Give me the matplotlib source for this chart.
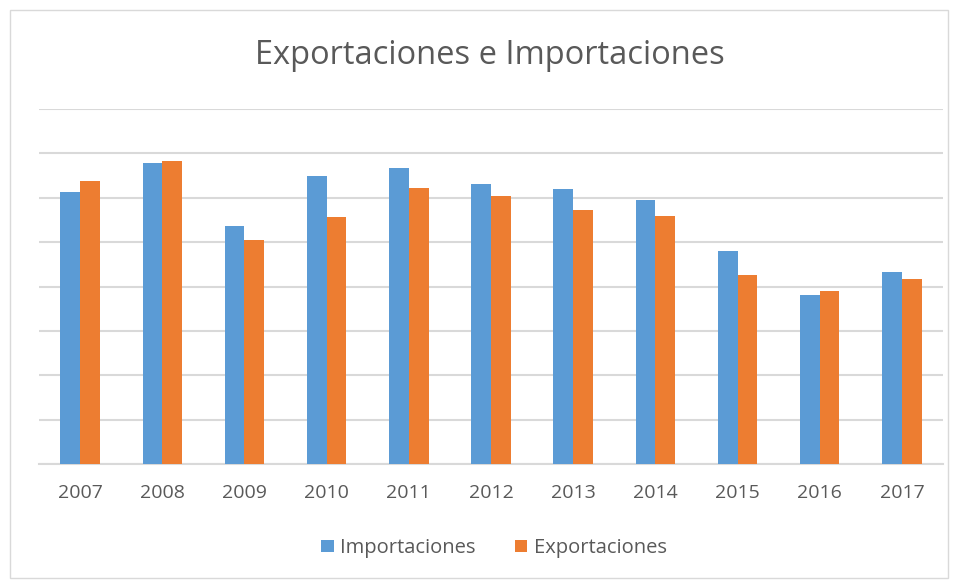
import matplotlib
matplotlib.use('Agg')
import matplotlib.pyplot as plt
from matplotlib.patches import Rectangle
import numpy as np

years = ['2007', '2008', '2009', '2010', '2011', '2012', '2013', '2014', '2015', '2016', '2017']
importaciones = [6.12, 6.78, 5.36, 6.48, 6.67, 6.31, 6.20, 5.94, 4.80, 3.80, 4.32]
exportaciones = [6.38, 6.82, 5.05, 5.57, 6.22, 6.03, 5.73, 5.60, 4.25, 3.89, 4.16]

plt.rcParams['font.family'] = ['Open Sans', 'DejaVu Sans']
GRAY = '#595959'
GRID = '#d9d9d9'

W, H = 958, 580
fig = plt.figure(figsize=(W / 100, H / 100), dpi=100)
# plot area in pixel coords
left, right, top, bottom = 39, 943, 109, 464
ax = fig.add_axes([left / W, 1 - bottom / H, (right - left) / W, (bottom - top) / H])

x = np.arange(len(years))
bw = 0.24
ax.bar(x - bw / 2, importaciones, bw, color='#5B9BD5', label='Importaciones', zorder=3)
ax.bar(x + bw / 2, exportaciones, bw, color='#ED7D31', label='Exportaciones', zorder=3)

ax.set_xlim(-0.5, len(years) - 0.5)
ax.set_ylim(0, 8)
ax.set_yticks(np.arange(0, 9, 1))
ax.yaxis.grid(True, color=GRID, lw=1.5, zorder=0)
ax.tick_params(axis='y', left=False, labelleft=False)
ax.tick_params(axis='x', bottom=False, pad=11, labelsize=14, colors=GRAY)
ax.set_xticks(x)
ax.set_xticklabels(years)
for s in ['top', 'right', 'left']:
    ax.spines[s].set_visible(False)
ax.spines['bottom'].set_color(GRID)
ax.spines['bottom'].set_linewidth(1.5)

fig.text(490 / W, 1 - 56 / H, 'Exportaciones e Importaciones', ha='center', va='center',
         fontsize=23.5, color=GRAY)

leg = fig.legend(loc='center', bbox_to_anchor=(494 / W, 1 - 548 / H), ncol=2, frameon=False,
                 fontsize=14.5, handlelength=0.6, handleheight=0.6, columnspacing=2.0,
                 handletextpad=0.3)
for t in leg.get_texts():
    t.set_color(GRAY)

fig.patches.append(Rectangle((10 / W, 2 / H), 938 / W, 568 / H, transform=fig.transFigure,
                             fill=False, edgecolor='#d9d9d9', lw=1))

fig.savefig('out.png', dpi=100)
